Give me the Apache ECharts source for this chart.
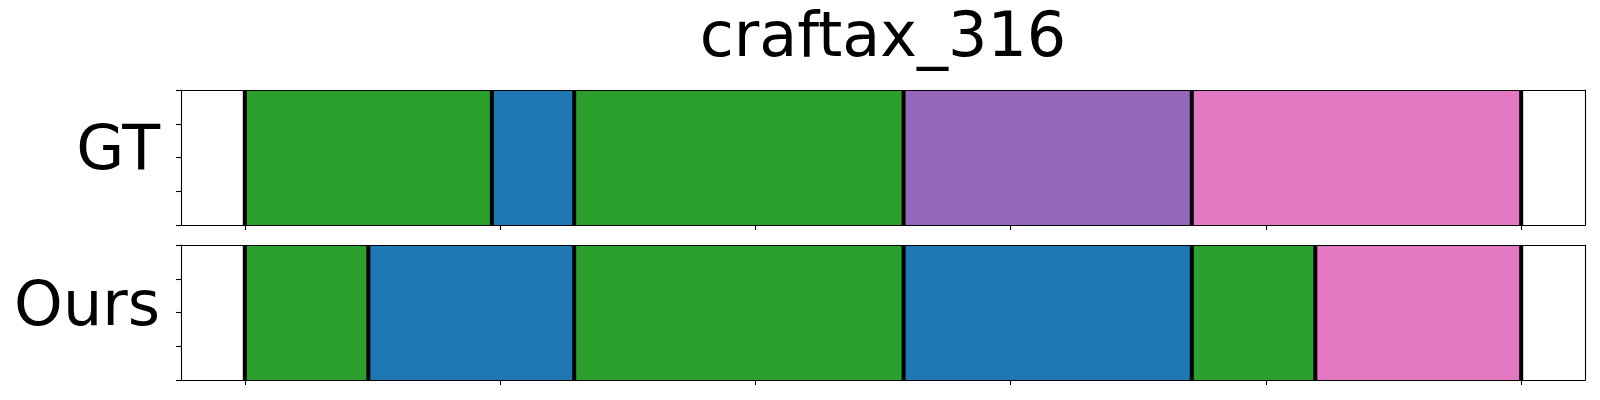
<!DOCTYPE html>
<html>
<head>
<meta charset="utf-8">
<script src="https://cdn.jsdelivr.net/npm/echarts@6/dist/echarts.min.js"></script>
<style>
html,body{margin:0;padding:0;background:#fff;}
#chart{width:1600px;height:400px;}
</style>
</head>
<body>
<div id="chart"></div>
<script>
// ---- data ----
const chartTitle = 'craftax_316';
const rowLabels = ['GT', 'Ours'];
const gtBounds = [0, 6, 8, 16, 23, 31];
const gtClasses = ['C2', 'C0', 'C2', 'C4', 'C6'];
const oursBounds = [0, 3, 8, 16, 23, 26, 31];
const oursClasses = ['C2', 'C0', 'C2', 'C0', 'C2', 'C6'];
const xTicks = [0, 6.2, 12.4, 18.6, 24.8, 31];
const totalLen = 31;

// ---- styles ----
const palette = { C0: '#1f77b4', C2: '#2ca02c', C4: '#9467bd', C6: '#e377c2' };
const FONT = '"DejaVu Sans", sans-serif';
const fontSize = 62;
const grids = [
  { left: 181, width: 1404, top: 90, height: 135 },
  { left: 181, width: 1404, top: 245, height: 135 }
];
const rows = [
  { bounds: gtBounds, classes: gtClasses },
  { bounds: oursBounds, classes: oursClasses }
];

const xMin = -0.05 * totalLen, xMax = 1.05 * totalLen;
const axisLineStyle = { color: '#000', width: 1.1 };

const xAxes = [], yAxes = [], series = [];
grids.forEach((g, gi) => {
  xAxes.push({
    type: 'value', gridIndex: gi, position: 'bottom', min: xMin, max: xMax, z: 10,
    axisLine: { show: true, onZero: false, lineStyle: axisLineStyle },
    axisTick: { show: true, inside: false, length: 5, lineStyle: { color: '#000', width: 1.1 }, customValues: xTicks },
    axisLabel: { show: false }, splitLine: { show: false }
  });
  xAxes.push({
    type: 'value', gridIndex: gi, position: 'top', min: xMin, max: xMax, z: 10,
    axisLine: { show: true, onZero: false, lineStyle: axisLineStyle },
    axisTick: { show: false }, axisLabel: { show: false }, splitLine: { show: false }
  });
  yAxes.push({
    type: 'value', gridIndex: gi, position: 'left', min: 0, max: 1, interval: 0.25, z: 10,
    axisLine: { show: true, onZero: false, lineStyle: axisLineStyle },
    axisTick: { show: true, inside: false, length: 5, lineStyle: { color: '#000', width: 1.1 } },
    axisLabel: { show: false }, splitLine: { show: false }
  });
  yAxes.push({
    type: 'value', gridIndex: gi, position: 'right', min: 0, max: 1, z: 10,
    axisLine: { show: true, onZero: false, lineStyle: axisLineStyle },
    axisTick: { show: false }, axisLabel: { show: false }, splitLine: { show: false }
  });

  const r = rows[gi];
  const segData = r.classes.map((c, i) => ({
    value: [r.bounds[i], r.bounds[i + 1]],
    itemStyle: { color: palette[c] }
  }));
  series.push({
    type: 'custom', xAxisIndex: gi * 2, yAxisIndex: gi * 2, z: 2,
    encode: { x: [0, 1] },
    data: segData,
    renderItem: function (params, api) {
      const p0 = api.coord([api.value(0), 1]);
      const p1 = api.coord([api.value(1), 0]);
      return {
        type: 'rect',
        shape: { x: p0[0], y: p0[1], width: p1[0] - p0[0], height: p1[1] - p0[1] },
        style: { fill: api.visual('color') }
      };
    }
  });
  series.push({
    type: 'custom', xAxisIndex: gi * 2, yAxisIndex: gi * 2, z: 3,
    encode: { x: 0 },
    data: r.bounds.map(b => [b]),
    renderItem: function (params, api) {
      const a = api.coord([api.value(0), 1]);
      const b = api.coord([api.value(0), 0]);
      return {
        type: 'line',
        shape: { x1: a[0], y1: a[1], x2: b[0], y2: b[1] },
        style: { stroke: '#000', lineWidth: 4 }
      };
    }
  });
});

const chart = echarts.init(document.getElementById('chart'), null, { renderer: 'canvas' });
chart.setOption({
  animation: false,
  backgroundColor: '#fff',
  grid: grids.map(g => Object.assign({ outerBoundsMode: 'none', containLabel: false }, g)),
  xAxis: xAxes,
  yAxis: yAxes,
  series: series,
  graphic: [
    { type: 'text', x: 883, y: 40, style: { text: chartTitle, font: fontSize + 'px ' + FONT, fill: '#000', align: 'center', verticalAlign: 'middle' } },
    { type: 'text', x: 160, y: 152.5, style: { text: rowLabels[0], font: fontSize + 'px ' + FONT, fill: '#000', align: 'right', verticalAlign: 'middle' } },
    { type: 'text', x: 160, y: 309, style: { text: rowLabels[1], font: fontSize + 'px ' + FONT, fill: '#000', align: 'right', verticalAlign: 'middle' } }
  ]
});
</script>
</body>
</html>
